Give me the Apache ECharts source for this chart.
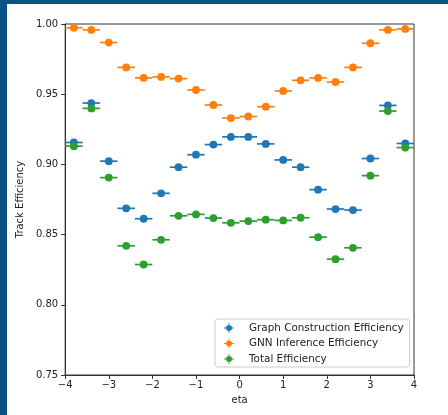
<!DOCTYPE html>
<html>
<head>
<meta charset="utf-8">
<script src="https://cdn.jsdelivr.net/npm/echarts@6/dist/echarts.min.js"></script>
<style>
  html, body { margin: 0; padding: 0; width: 448px; height: 415px; background: #0b5384; overflow: hidden; }
  #chart { position: absolute; left: 7px; top: 4px; width: 441px; height: 411px; background: #ffffff; }
</style>
</head>
<body>
<div id="chart"></div>
<script>
// eta bin centres (bins of width 0.4 between -4 and 4)
const etaCenters = [-3.8, -3.4, -3.0, -2.6, -2.2, -1.8, -1.4, -1.0, -0.6, -0.2,
                     0.2,  0.6,  1.0,  1.4,  1.8,  2.2,  2.6,  3.0,  3.4,  3.8];
const binHalfWidth = 0.2;

const graphConstruction = [0.9156, 0.9437, 0.9023, 0.8687, 0.8613, 0.8794, 0.8980, 0.9069, 0.9141, 0.9196,
                           0.9196, 0.9146, 0.9032, 0.8980, 0.8820, 0.8682, 0.8675, 0.9042, 0.9420, 0.9149];
const gnnInference      = [0.9973, 0.9958, 0.9868, 0.9691, 0.9616, 0.9623, 0.9611, 0.9530, 0.9423, 0.9330,
                           0.9341, 0.9411, 0.9523, 0.9599, 0.9616, 0.9587, 0.9691, 0.9863, 0.9958, 0.9965];
const totalEfficiency   = [0.9130, 0.9399, 0.8906, 0.8420, 0.8287, 0.8463, 0.8634, 0.8644, 0.8618, 0.8584,
                           0.8596, 0.8606, 0.8601, 0.8620, 0.8482, 0.8325, 0.8406, 0.8920, 0.9380, 0.9120];

const seriesNames = ['Graph Construction Efficiency', 'GNN Inference Efficiency', 'Total Efficiency'];
const seriesValues = [graphConstruction, gnnInference, totalEfficiency];
const seriesColors = ['#1f77b4', '#ff7f0e', '#2ca02c'];

const xTicks = [-4, -3, -2, -1, 0, 1, 2, 3, 4];
const yTickStep = 0.05;

// errorbar marker: circle with horizontal and vertical bars
const errIcon = 'path://M0,9.2L20,9.2L20,10.8L0,10.8Z M9.2,0L10.8,0L10.8,20L9.2,20Z M4,10A6,6 0 1,1 16,10A6,6 0 1,1 4,10Z';

function renderErrorPoint(params, api) {
  const x = api.value(0), y = api.value(1);
  const left = api.coord([x - binHalfWidth, y]);
  const right = api.coord([x + binHalfWidth, y]);
  const c = api.coord([x, y]);
  const color = api.visual('color');
  return {
    type: 'group',
    children: [
      { type: 'line', shape: { x1: left[0], y1: left[1], x2: right[0], y2: right[1] },
        style: { stroke: color, lineWidth: 1.7 } },
      { type: 'circle', shape: { cx: c[0], cy: c[1], r: 3.9 },
        style: { fill: color } }
    ]
  };
}

const minus = s => String(s).replace('-', '\u2212');

const chart = echarts.init(document.getElementById('chart'), null, { renderer: 'canvas' });
chart.setOption({
  animation: false,
  textStyle: { fontFamily: 'DejaVu Sans' },
  grid: { left: 56, right: 34, top: 20, bottom: 40, show: true, borderColor: '#333', borderWidth: 1, backgroundColor: 'transparent' },
  xAxis: {
    type: 'value', min: xTicks[0], max: xTicks[xTicks.length - 1], interval: 1,
    name: 'eta', nameLocation: 'middle', nameGap: 20,
    nameTextStyle: { fontSize: 10, color: '#222', fontFamily: 'DejaVu Sans' },
    axisLine: { show: true, onZero: false, lineStyle: { color: '#333', width: 1 } },
    axisTick: { show: true, length: 4, lineStyle: { color: '#333' } },
    axisLabel: { fontSize: 10, color: '#222', margin: 5, formatter: v => minus(v) },
    splitLine: { show: false }
  },
  yAxis: {
    type: 'value', min: 0.75, max: 1.0, interval: yTickStep,
    name: 'Track Efficiency', nameLocation: 'middle', nameGap: 32,
    nameTextStyle: { fontSize: 10, color: '#222', fontFamily: 'DejaVu Sans' },
    axisLine: { show: true, onZero: false, lineStyle: { color: '#333', width: 1 } },
    axisTick: { show: true, length: 4, lineStyle: { color: '#333' } },
    axisLabel: { fontSize: 10, color: '#222', margin: 7, formatter: v => v.toFixed(2) },
    splitLine: { show: false }
  },
  legend: {
    orient: 'vertical', left: 208, top: 315,
    padding: [3, 6, 2, 9], itemGap: 3.5, itemWidth: 10, itemHeight: 10,
    backgroundColor: 'rgba(255,255,255,0.8)', borderColor: '#cccccc', borderWidth: 1, borderRadius: 3,
    textStyle: { fontSize: 10.4, color: '#222', padding: [0, 0, 0, 10], lineHeight: 12 },
    data: seriesNames.map(n => ({ name: n, icon: errIcon }))
  },
  series: seriesNames.map((name, i) => ({
    name: name,
    type: 'custom',
    color: seriesColors[i],
    itemStyle: { color: seriesColors[i] },
    renderItem: renderErrorPoint,
    clip: false,
    encode: { x: 0, y: 1 },
    data: etaCenters.map((x, j) => [x, seriesValues[i][j]])
  }))
});
</script>
</body>
</html>
